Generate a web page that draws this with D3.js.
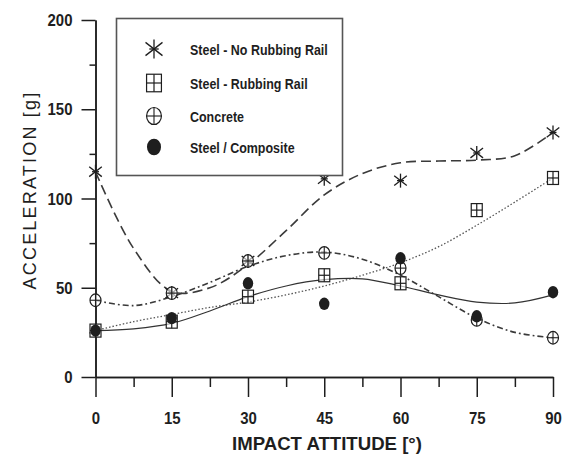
<!DOCTYPE html>
<html>
<head>
<meta charset="utf-8">
<script src="https://cdn.jsdelivr.net/npm/d3@7/dist/d3.min.js"></script>
<style>
  html, body { margin: 0; padding: 0; background: #fff; }
  svg { display: block; }
  .lab { font-family: "Liberation Sans", Arial, sans-serif; font-weight: bold; }
</style>
</head>
<body>
<svg id="chart" width="567" height="460"></svg>
<script>
// Impact attitude (degrees) and measured peak accelerations [g]
const angles = [0, 15, 30, 45, 60, 75, 90];
const steelNoRail    = [115, 47, 65, 111, 110, 125.5, 137];
const steelRail      = [26, 31, 45, 57, 52.5, 93.5, 111.5];
const concrete       = [43, 47, 65, 69.5, 61, 32, 22];
const steelComposite = [26, 33, 52.5, 41, 66.5, 34, 47.5];

// Smoothed trend curves, sampled every 7.5 degrees
const fitAngles = [0, 7.5, 15, 22.5, 30, 37.5, 45, 52.5, 60, 67.5, 75, 82.5, 90];
const fitNoRail    = [115, 72, 48, 50, 63, 82, 102, 114, 120, 121, 121.5, 124, 137];
const fitRail      = [26, 31, 35, 39, 42, 46, 51, 57, 64, 73, 85, 98, 111.5];
const fitConcrete  = [43, 40, 45, 53, 62, 68, 70, 66, 57, 45, 33, 25, 22];
const fitComposite = [26, 27, 30, 37, 45, 51, 54.5, 55, 51, 46, 42, 41.5, 46];

const yTicks = [0, 50, 100, 150, 200];
const yMinor = [25, 75, 125, 175];
const xTicks = [0, 15, 30, 45, 60, 75, 90];
const xMinor = [7.5, 22.5, 37.5, 52.5, 67.5, 82.5];

const legendLabels = ["Steel - No Rubbing Rail", "Steel - Rubbing Rail", "Concrete", "Steel / Composite"];
const seriesKinds = ["star", "square", "circleCross", "dot"];

const svg = d3.select("#chart");
const ink = "#1e1e1e";
const squeeze = 0.88;   // horizontal compression for the condensed lettering

const x = d3.scaleLinear().domain([0, 90]).range([95.5, 553]);
const y = d3.scaleLinear().domain([0, 200]).range([377, 20]);

// ---- axes ----
const yAxis = svg.append("g").attr("transform", `translate(${x(0)},0)`)
  .call(d3.axisLeft(y).tickValues(yTicks).tickSize(14).tickPadding(10).tickSizeOuter(0));
const yAxisMinor = svg.append("g").attr("transform", `translate(${x(0)},0)`)
  .call(d3.axisLeft(y).tickValues(yMinor).tickSize(6).tickFormat("").tickSizeOuter(0));
const xAxis = svg.append("g").attr("transform", `translate(0,${y(0)})`)
  .call(d3.axisBottom(x).tickValues(xTicks).tickSize(20).tickPadding(14).tickSizeOuter(0));
const xAxisMinor = svg.append("g").attr("transform", `translate(0,${y(0)})`)
  .call(d3.axisBottom(x).tickValues(xMinor).tickSize(10).tickFormat("").tickSizeOuter(0));

[yAxis, yAxisMinor, xAxis, xAxisMinor].forEach(g => {
  g.select(".domain").attr("stroke", ink).attr("stroke-width", 1.5);
  g.selectAll(".tick line").attr("stroke", ink).attr("stroke-width", 1.5);
  g.selectAll(".tick text").attr("class", "lab").attr("fill", ink).style("font-size", "17px");
});
yAxis.selectAll(".tick text")
  .attr("x", -23 / squeeze).attr("dy", "0.33em")
  .attr("transform", `scale(${squeeze},1)`);
xAxis.selectAll(".tick text")
  .attr("y", 47.5).attr("dy", 0)
  .attr("transform", `scale(${squeeze},1)`);

// axis titles
svg.append("text")
  .attr("class", "lab")
  .attr("x", 232).attr("y", 450)
  .attr("fill", ink)
  .attr("textLength", 190)
  .attr("lengthAdjust", "spacingAndGlyphs")
  .style("font-size", "18px")
  .text("IMPACT ATTITUDE [°)");

svg.append("text")
  .attr("transform", "translate(36,190) rotate(-90)")
  .attr("text-anchor", "middle")
  .attr("fill", ink)
  .style("font-family", "'Liberation Sans', Arial, sans-serif")
  .style("font-size", "18px")
  .style("letter-spacing", "2.2px")
  .text("ACCELERATION [g]");

// ---- trend curves ----
const curveStyles = [
  { vals: fitNoRail, dash: "10,5", w: 1.6, c: "#3a3a3a" },
  { vals: fitRail, dash: "1.5,2", w: 1.3, c: "#555" },
  { vals: fitConcrete, dash: "6,3,1.8,3", w: 1.6, c: "#3a3a3a" },
  { vals: fitComposite, dash: null, w: 1.2, c: "#333" }
];
const line = d3.line().x(d => x(d[0])).y(d => y(d[1])).curve(d3.curveCatmullRom.alpha(0.5));
curveStyles.forEach(s => {
  svg.append("path")
    .attr("d", line(fitAngles.map((a, i) => [a, s.vals[i]])))
    .attr("fill", "none")
    .attr("stroke", s.c)
    .attr("stroke-width", s.w)
    .attr("stroke-dasharray", s.dash);
});

// ---- marker shapes ----
function drawMarker(g, kind, cx, cy, s) {
  if (kind === "star") {
    const r = 7 * s;
    [[0, -r, 0, r], [-r * 0.9, -r * 0.7, r * 0.9, r * 0.7], [-r * 0.9, r * 0.7, r * 0.9, -r * 0.7], [-r * 0.5, 0, r * 0.5, 0]]
      .forEach(l => g.append("line")
        .attr("x1", cx + l[0]).attr("y1", cy + l[1]).attr("x2", cx + l[2]).attr("y2", cy + l[3])
        .attr("stroke", ink).attr("stroke-width", 1.3));
  } else if (kind === "square") {
    const w = 11 * s, h = 13 * s;
    g.append("rect").attr("x", cx - w / 2).attr("y", cy - h / 2).attr("width", w).attr("height", h)
      .attr("fill", "#fff").attr("fill-opacity", 0.6).attr("stroke", ink).attr("stroke-width", 1.2);
    g.append("line").attr("x1", cx).attr("x2", cx).attr("y1", cy - h / 2).attr("y2", cy + h / 2).attr("stroke", ink).attr("stroke-width", 1.2);
    g.append("line").attr("x1", cx - w / 2).attr("x2", cx + w / 2).attr("y1", cy).attr("y2", cy).attr("stroke", ink).attr("stroke-width", 1.2);
  } else if (kind === "circleCross") {
    const rx = 5.5 * s, ry = 6.3 * s;
    g.append("ellipse").attr("cx", cx).attr("cy", cy).attr("rx", rx).attr("ry", ry)
      .attr("fill", "#fff").attr("fill-opacity", 0.6).attr("stroke", ink).attr("stroke-width", 1.2);
    g.append("line").attr("x1", cx).attr("x2", cx).attr("y1", cy - ry).attr("y2", cy + ry).attr("stroke", ink).attr("stroke-width", 1.1);
    g.append("line").attr("x1", cx - rx).attr("x2", cx + rx).attr("y1", cy).attr("y2", cy).attr("stroke", ink).attr("stroke-width", 1.1);
  } else {
    g.append("ellipse").attr("cx", cx).attr("cy", cy).attr("rx", 5.2 * s).attr("ry", 6.2 * s).attr("fill", ink);
  }
}

// ---- data markers ----
const seriesVals = [steelNoRail, steelRail, concrete, steelComposite];
const marks = svg.append("g");
seriesVals.forEach((vals, si) => {
  vals.forEach((v, i) => drawMarker(marks, seriesKinds[si], x(angles[i]), y(v), 1));
});

// ---- legend ----
const legend = svg.append("g");
legend.append("rect")
  .attr("x", 116.5).attr("y", 18.5).attr("width", 226).attr("height", 157)
  .attr("fill", "#fff").attr("stroke", "#555").attr("stroke-width", 1.6);
const rowY = [49, 83, 116, 147];
legendLabels.forEach((lab, i) => {
  drawMarker(legend, seriesKinds[i], 154, rowY[i], 1.35);
  legend.append("text")
    .attr("class", "lab")
    .attr("transform", `translate(190,${rowY[i] + 5.5}) scale(0.86,1)`)
    .attr("fill", ink)
    .style("font-size", "14.5px")
    .text(lab);
});
</script>
</body>
</html>
